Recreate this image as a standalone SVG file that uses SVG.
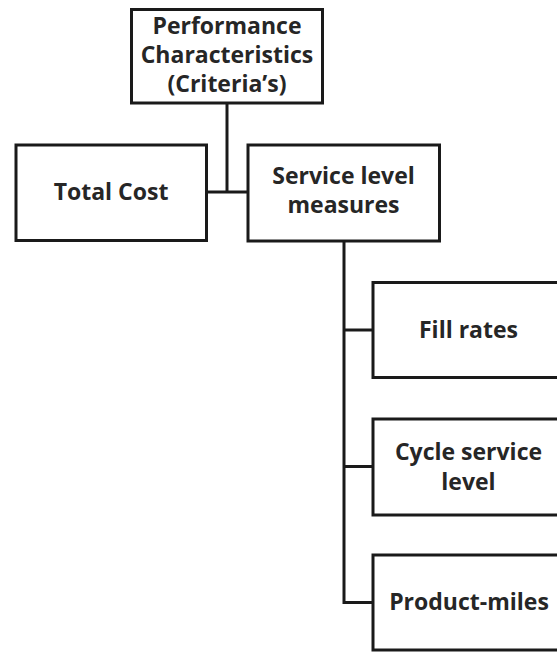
<svg xmlns="http://www.w3.org/2000/svg" width="557" height="652" viewBox="0 0 557 652">
  <style>
    .box { fill: #ffffff; stroke: #1a1a1a; stroke-width: 3; }
    .lbl { font-family: "Open Sans", "Noto Sans", "Liberation Sans", sans-serif; font-weight: 700; font-size: 23px; fill: #262626; text-anchor: middle; }
    .wire { fill: none; stroke: #1a1a1a; stroke-width: 3; }
  </style>
  <rect width="557" height="652" fill="#ffffff"/>

  <!-- tree connectors -->
  <g id="connectors">
    <path class="wire" d="M227 103 V192"/>
    <path class="wire" d="M206.5 192 H248"/>
    <path class="wire" d="M344 241 V602.5 H373"/>
    <path class="wire" d="M344 330 H373"/>
    <path class="wire" d="M344 466.5 H373"/>
  </g>

  <g id="performance">
    <rect class="box" x="131.5" y="9.5" width="191" height="93.5"/>
    <text class="lbl" x="227" y="34">Performance</text>
    <text class="lbl" x="227" y="63">Characteristics</text>
    <text class="lbl" x="227" y="92">(Criteria’s)</text>
  </g>

  <g id="total-cost">
    <rect class="box" x="16" y="145" width="190.5" height="95.5"/>
    <text class="lbl" x="111" y="200">Total Cost</text>
  </g>

  <g id="service-level">
    <rect class="box" x="248" y="145" width="191.5" height="96"/>
    <text class="lbl" x="343.5" y="184">Service level</text>
    <text class="lbl" x="343.5" y="213">measures</text>
  </g>

  <g id="fill-rates">
    <rect class="box" x="373" y="282.5" width="200" height="95"/>
    <text class="lbl" x="468.5" y="338">Fill rates</text>
  </g>

  <g id="cycle-service-level">
    <rect class="box" x="373" y="419" width="200" height="96"/>
    <text class="lbl" x="468.5" y="460">Cycle service</text>
    <text class="lbl" x="468.5" y="490">level</text>
  </g>

  <g id="product-miles">
    <rect class="box" x="373" y="555" width="200" height="95"/>
    <text class="lbl" x="469" y="610">Product-miles</text>
  </g>
</svg>
